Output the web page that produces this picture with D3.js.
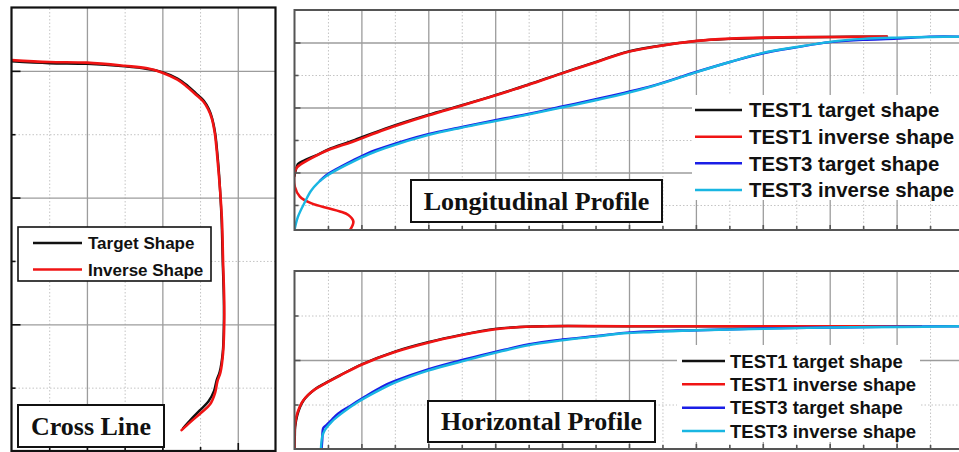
<!DOCTYPE html>
<html><head><meta charset="utf-8">
<script src="https://cdn.jsdelivr.net/npm/d3@7"></script>
<style>html,body{margin:0;padding:0;background:#fff;}svg{display:block}</style>
</head><body>
<svg id="c" width="959" height="452"></svg>
<script>
// ---------------- DATA ----------------
const crossNames = ["Target Shape", "Inverse Shape"];
const profileNames = ["TEST1 target shape", "TEST1 inverse shape", "TEST3 target shape", "TEST3 inverse shape"];
const panelTitles = ["Cross Line", "Longitudinal Profile", "Horizontal Profile"];

const crossXTicks = [1, 2, 3, 4, 5, 6];
const crossYTicks = [1, 2, 3, 4, 5, 6];
const profileXTicks = [1,2,3,4,5,6,7,8,9,10,11,12,13,14,15,16,17,18,19];
const longYTicks = [1, 2, 3, 4, 5, 6];
const horYTicks = [1, 2, 3];

const crossTarget = [[0.00,6.15],[1.00,6.12],[2.00,6.11],[3.00,6.07],[3.60,6.03],[4.00,5.98],[4.40,5.88],[4.66,5.77],[4.92,5.63],[5.10,5.53],[5.23,5.40],[5.32,5.25],[5.40,5.02],[5.45,4.75],[5.49,4.48],[5.53,4.12],[5.57,3.65],[5.60,3.00],[5.63,2.38],[5.63,1.99],[5.60,1.55],[5.52,1.25],[5.44,1.12],[5.37,0.95],[5.22,0.78],[4.99,0.64],[4.76,0.50],[4.55,0.36]];
const crossInverse = [[0.00,6.17],[1.00,6.14],[2.00,6.13],[3.00,6.08],[3.60,6.04],[4.00,5.97],[4.40,5.86],[4.65,5.75],[4.90,5.62],[5.08,5.52],[5.21,5.40],[5.31,5.25],[5.39,5.02],[5.44,4.75],[5.48,4.48],[5.53,4.12],[5.58,3.65],[5.61,3.00],[5.64,2.38],[5.64,1.99],[5.61,1.55],[5.54,1.24],[5.46,1.10],[5.40,0.92],[5.27,0.74],[5.02,0.60],[4.75,0.46],[4.51,0.33]];

const longT1Target = [[0.00,1.89],[0.04,2.08],[0.10,2.26],[0.31,2.38],[0.70,2.55],[1.01,2.71],[1.72,2.97],[2.71,3.35],[3.99,3.77],[5.01,4.07],[6.00,4.38],[6.98,4.70],[8.00,5.06],[9.04,5.41],[9.85,5.69],[10.72,5.87],[12.03,6.05],[13.02,6.11],[14.01,6.14],[16.01,6.17],[17.71,6.18]];
const longT1Inverse = [[1.66,0.23],[1.76,0.49],[1.61,0.69],[1.36,0.80],[1.01,0.90],[0.51,1.05],[0.16,1.26],[0.01,1.56],[0.00,1.98],[0.06,2.14],[0.16,2.23],[0.51,2.44],[1.01,2.69],[1.72,2.94],[2.71,3.32],[3.99,3.75],[5.01,4.06],[6.00,4.37],[6.98,4.69],[8.00,5.05],[9.04,5.40],[9.85,5.68],[10.72,5.86],[12.03,6.05],[13.02,6.12],[14.01,6.15],[16.01,6.17],[17.71,6.18]];
const longT3Target = [[0.76,1.74],[0.94,1.91],[1.21,2.08],[1.72,2.36],[2.20,2.60],[2.71,2.79],[3.99,3.18],[5.01,3.40],[6.00,3.61],[6.98,3.80],[8.00,4.03],[9.04,4.26],[9.85,4.45],[10.72,4.67],[12.03,5.10],[13.02,5.40],[14.01,5.67],[15.00,5.85],[16.01,6.01],[16.99,6.08],[18.01,6.12],[18.99,6.18],[20.00,6.18]];
const longT3Inverse = [[0.00,0.23],[0.10,0.63],[0.31,1.09],[0.49,1.43],[0.70,1.68],[0.94,1.88],[1.21,2.05],[1.72,2.32],[2.20,2.55],[2.71,2.75],[3.99,3.15],[5.01,3.38],[6.00,3.58],[6.98,3.78],[8.00,4.00],[9.04,4.23],[9.85,4.42],[10.72,4.66],[12.03,5.09],[13.02,5.40],[14.01,5.68],[15.00,5.86],[16.01,6.02],[16.99,6.11],[18.01,6.15],[18.99,6.17],[20.00,6.18]];

const horT1Target = [[0.00,0.00],[0.01,0.28],[0.02,0.50],[0.08,0.75],[0.17,0.95],[0.27,1.09],[0.42,1.22],[0.62,1.35],[0.92,1.48],[1.37,1.66],[2.03,1.91],[3.00,2.19],[3.99,2.40],[5.01,2.57],[6.00,2.70],[6.74,2.74],[7.49,2.76],[9.85,2.76],[18.73,2.76]];
const horT1Inverse = [[0.00,0.00],[0.00,0.27],[0.01,0.49],[0.06,0.74],[0.15,0.94],[0.25,1.08],[0.40,1.21],[0.61,1.34],[0.91,1.47],[1.36,1.65],[2.02,1.90],[3.00,2.18],[3.99,2.39],[5.01,2.56],[6.00,2.69],[6.74,2.74],[7.49,2.76],[9.85,2.76],[18.73,2.76]];
const horT3Target = [[0.81,0.00],[0.83,0.20],[0.86,0.47],[0.96,0.54],[1.12,0.66],[1.31,0.80],[1.71,0.99],[2.11,1.18],[2.61,1.40],[3.00,1.53],[3.99,1.79],[5.01,2.00],[6.00,2.18],[6.98,2.35],[8.00,2.46],[9.04,2.54],[9.85,2.61],[10.72,2.65],[12.03,2.67],[14.01,2.71],[16.01,2.73],[18.01,2.75],[20.00,2.76]];
const horT3Inverse = [[0.79,0.00],[0.83,0.28],[0.91,0.43],[1.11,0.61],[1.41,0.80],[1.91,1.06],[2.61,1.35],[3.00,1.49],[3.99,1.76],[5.01,1.97],[6.00,2.16],[6.98,2.33],[8.00,2.44],[9.04,2.53],[9.85,2.60],[10.72,2.63],[12.03,2.67],[14.01,2.70],[16.01,2.73],[18.01,2.74],[20.00,2.76]];

// ---------------- STYLE ----------------
const COL = {black:"#111111", red:"#f01414", blue:"#1a1ee6", cyan:"#19b6e2"};
const profileColors = [COL.black, COL.red, COL.blue, COL.cyan];
const crossColors = [COL.black, COL.red];
const SANS = "'Liberation Sans', Arial, sans-serif";
const SERIF = "'Liberation Serif', 'Times New Roman', serif";

const svg = d3.select("#c");
let clipN = 0;

function panel(cfg) {
  const {x, y, xTicks, yTicks, frameColor, frameW, yMajor, yMinor, xMajor, xMinor} = cfg;
  const [x0, x1] = x.range();
  const [yb, yt] = y.range();
  const W = x1 - x0, H = yb - yt;
  const g = svg.append("g");
  const isMajor = v => v % 2 === 0;
  const styleGrid = (sel, major) => {
    sel.select(".domain").remove();
    sel.selectAll(".tick line")
      .attr("stroke", major ? "#9c9c9c" : "#c4c4c4")
      .attr("stroke-width", major ? 1.3 : 1)
      .attr("stroke-dasharray", major ? null : "1.5,2");
  };
  g.append("g").attr("transform", `translate(0,${yb})`)
    .call(d3.axisBottom(x).tickValues(xTicks.filter(v => !isMajor(v))).tickSize(-H).tickFormat(""))
    .call(s => styleGrid(s, false));
  g.append("g").attr("transform", `translate(${x0},0)`)
    .call(d3.axisLeft(y).tickValues(yTicks.filter(v => !isMajor(v))).tickSize(-W).tickFormat(""))
    .call(s => styleGrid(s, false));
  g.append("g").attr("transform", `translate(0,${yb})`)
    .call(d3.axisBottom(x).tickValues(xTicks.filter(isMajor)).tickSize(-H).tickFormat(""))
    .call(s => styleGrid(s, true));
  g.append("g").attr("transform", `translate(${x0},0)`)
    .call(d3.axisLeft(y).tickValues(yTicks.filter(isMajor)).tickSize(-W).tickFormat(""))
    .call(s => styleGrid(s, true));
  const id = "clip" + (clipN++);
  svg.append("clipPath").attr("id", id).append("rect")
    .attr("x", x0).attr("y", yt).attr("width", W).attr("height", H);
  const plot = g.append("g").attr("clip-path", `url(#${id})`);
  const tickG = g.append("g");
  const styleTick = s => { s.select(".domain").remove(); s.selectAll(".tick line").attr("stroke", frameColor).attr("stroke-width", 1.6); };
  tickG.append("g").attr("transform", `translate(${x0},0)`)
    .call(d3.axisLeft(y).tickValues(yTicks.filter(isMajor)).tickSize(-yMajor).tickFormat("")).call(styleTick);
  tickG.append("g").attr("transform", `translate(${x0},0)`)
    .call(d3.axisLeft(y).tickValues(yTicks.filter(v => !isMajor(v))).tickSize(-yMinor).tickFormat("")).call(styleTick);
  tickG.append("g").attr("transform", `translate(0,${yb})`)
    .call(d3.axisBottom(x).tickValues(xTicks.filter(isMajor)).tickSize(-xMajor).tickFormat("")).call(styleTick);
  tickG.append("g").attr("transform", `translate(0,${yb})`)
    .call(d3.axisBottom(x).tickValues(xTicks.filter(v => !isMajor(v))).tickSize(-xMinor).tickFormat("")).call(styleTick);
  return {g, plot, x, y, frame: () => g.append("rect").attr("x", x0).attr("y", yt).attr("width", W).attr("height", H)
      .attr("fill", "none").attr("stroke", frameColor).attr("stroke-width", frameW)};
}

function drawLine(p, data, color, w) {
  const line = d3.line().x(d => p.x(d[0])).y(d => p.y(d[1])).curve(d3.curveCatmullRom.alpha(0.5));
  p.plot.append("path").datum(data).attr("d", line)
    .attr("fill", "none").attr("stroke", color).attr("stroke-width", w)
    .attr("stroke-linejoin", "round").attr("stroke-linecap", "round");
}

function legend(names, colors, box, lx0, lx1, rows, tx, fs, border) {
  const lg = svg.append("g");
  lg.append("rect").attr("x", box[0]).attr("y", box[1]).attr("width", box[2]).attr("height", box[3])
    .attr("fill", "#fff").attr("stroke", border ? "#111" : "none").attr("stroke-width", 1.6);
  names.forEach((n, i) => {
    lg.append("line").attr("x1", lx0).attr("x2", lx1).attr("y1", rows[i]).attr("y2", rows[i])
      .attr("stroke", colors[i]).attr("stroke-width", 2.6);
    lg.append("text").attr("x", tx).attr("y", rows[i] + fs * 0.36).text(n)
      .attr("font-family", SANS).attr("font-weight", "bold").attr("font-size", fs).attr("fill", "#111");
  });
}

function label(text, box) {
  const lg = svg.append("g");
  lg.append("rect").attr("x", box[0]).attr("y", box[1]).attr("width", box[2]).attr("height", box[3])
    .attr("fill", "#fff").attr("stroke", "#111").attr("stroke-width", 2);
  lg.append("text").attr("x", box[0] + box[2] / 2).attr("y", box[1] + box[3] / 2 + 8.5)
    .attr("text-anchor", "middle").text(text)
    .attr("font-family", SERIF).attr("font-weight", "bold").attr("font-size", 26).attr("fill", "#111");
}

// ---------------- PANEL 1: Cross Line ----------------
const p1 = panel({
  x: d3.scaleLinear().domain([0, 7]).range([11.5, 275.5]),
  y: d3.scaleLinear().domain([0, 7]).range([451, 7.5]),
  xTicks: crossXTicks, yTicks: crossYTicks, frameColor: "#111", frameW: 2.2,
  yMajor: 9, yMinor: 4, xMajor: 8, xMinor: 4
});
drawLine(p1, crossTarget, crossColors[0], 2.4);
drawLine(p1, crossInverse, crossColors[1], 2.6);
p1.frame();
legend(crossNames, crossColors, [18, 227, 193, 54], 33, 82, [243, 269.5], 88, 17, true);
label(panelTitles[0], [18, 405, 146, 42]);

// ---------------- PANEL 2: Longitudinal ----------------
const p2 = panel({
  x: d3.scaleLinear().domain([0, 20]).range([294.5, 963.5]),
  y: d3.scaleLinear().domain([0.23, 7]).range([230, 10]),
  xTicks: profileXTicks, yTicks: longYTicks, frameColor: "#555", frameW: 2,
  yMajor: 6, yMinor: 4, xMajor: 5, xMinor: 4
});
drawLine(p2, longT1Target, profileColors[0], 2.4);
drawLine(p2, longT1Inverse, profileColors[1], 2.6);
drawLine(p2, longT3Target, profileColors[2], 2.4);
drawLine(p2, longT3Inverse, profileColors[3], 2.4);
p2.frame();
legend(profileNames, profileColors, [692, 95, 270, 105], 695, 742, [110, 136.7, 163.3, 190], 749, 20.4, false);
label(panelTitles[1], [411, 180, 251, 42]);

// ---------------- PANEL 3: Horizontal ----------------
const p3 = panel({
  x: d3.scaleLinear().domain([0, 20]).range([294.5, 963.5]),
  y: d3.scaleLinear().domain([0, 4]).range([449, 271]),
  xTicks: profileXTicks, yTicks: horYTicks, frameColor: "#555", frameW: 2,
  yMajor: 6, yMinor: 4, xMajor: 5, xMinor: 4
});
drawLine(p3, horT1Target, profileColors[0], 2.4);
drawLine(p3, horT1Inverse, profileColors[1], 2.6);
drawLine(p3, horT3Target, profileColors[2], 2.4);
drawLine(p3, horT3Inverse, profileColors[3], 2.4);
p3.frame();
legend(profileNames, profileColors, [677, 345, 243, 97], 682, 725, [361, 384.3, 407.7, 431], 730, 18.5, false);
label(panelTitles[2], [428, 401, 227, 41]);
</script>
</body></html>
